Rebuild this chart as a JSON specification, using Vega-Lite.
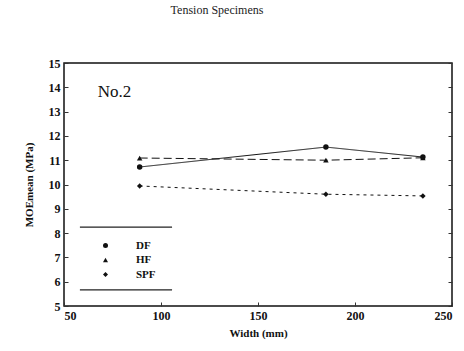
{
  "$schema": "https://vega.github.io/schema/vega-lite/v6.json",
  "autosize": {"type": "none"},
  "padding": {"left": 64, "top": 63, "right": 12, "bottom": 45},
  "width": 388,
  "height": 243,
  "background": "white",
  "title": {"text": "Tension Specimens", "anchor": "middle", "dx": -41, "offset": 40, "font": "Liberation Serif", "fontSize": 12, "fontWeight": "normal", "color": "#222"},
  "config": {
    "view": {"stroke": "#111", "strokeWidth": 1.5},
    "axis": {"grid": false, "domain": false, "labelFont": "Liberation Serif", "labelFontSize": 12, "labelFontWeight": "bold", "labelColor": "#111", "titleFont": "Liberation Serif", "titleFontSize": 11, "titleFontWeight": "bold", "titleColor": "#111", "tickColor": "#333", "tickSize": -4},
    "legend": {"labelFont": "Liberation Serif", "labelFontSize": 11, "labelFontWeight": "bold", "labelColor": "#111"}
  },
  "datasets": {
    "series": [
      {"width": 89, "moe": 10.72, "species": "DF"},
      {"width": 185, "moe": 11.54, "species": "DF"},
      {"width": 235, "moe": 11.13, "species": "DF"},
      {"width": 89, "moe": 11.09, "species": "HF"},
      {"width": 185, "moe": 11.0, "species": "HF"},
      {"width": 235, "moe": 11.1, "species": "HF"},
      {"width": 89, "moe": 9.94, "species": "SPF"},
      {"width": 185, "moe": 9.6, "species": "SPF"},
      {"width": 235, "moe": 9.53, "species": "SPF"}
    ],
    "frame": [
      {"x1": 58.2, "x2": 105.7, "y": 8.25},
      {"x1": 58.2, "x2": 105.7, "y": 5.66}
    ],
    "label": [{"x": 76, "y": 13.8, "text": "No.2"}]
  },
  "resolve": {"axis": {"y": "independent"}, "legend": {"shape": "independent", "strokeDash": "independent"}},
  "layer": [
    {
      "data": {"name": "series"},
      "mark": {"type": "line", "color": "#111", "strokeWidth": 1},
      "encoding": {
        "x": {"field": "width", "type": "quantitative", "scale": {"domain": [50, 250], "nice": false}, "axis": {"title": "Width (mm)", "values": [50, 100, 150, 200, 250], "labelPadding": 8, "titlePadding": 6}},
        "y": {"field": "moe", "type": "quantitative", "scale": {"domain": [5, 15], "nice": false, "zero": false}, "axis": {"title": "MOEmean (MPa)", "values": [5,6,7,8,9,10,11,12,13,14,15], "labelPadding": 8, "titlePadding": 14}},
        "strokeDash": {"field": "species", "type": "nominal", "scale": {"domain": ["DF", "HF", "SPF"], "range": [[1, 0], [8, 4], [3, 4]]}, "legend": null}
      }
    },
    {
      "data": {"name": "series"},
      "mark": {"type": "point", "filled": true, "color": "#111", "size": 30, "opacity": 1},
      "encoding": {
        "x": {"field": "width", "type": "quantitative"},
        "y": {"field": "moe", "type": "quantitative", "axis": null},
        "shape": {"field": "species", "type": "nominal", "title": null, "scale": {"domain": ["DF", "HF", "SPF"], "range": ["circle", "triangle-up", "diamond"]}, "legend": {"orient": "none", "legendX": 36, "legendY": 177, "symbolSize": 25, "symbolFillColor": "#111", "symbolStrokeColor": "#111", "labelOffset": 25, "rowPadding": 2.5}}
      }
    },
    {
      "data": {"name": "frame"},
      "mark": {"type": "rule", "color": "#222", "strokeWidth": 1.2},
      "encoding": {
        "x": {"field": "x1", "type": "quantitative"},
        "x2": {"field": "x2"},
        "y": {"field": "y", "type": "quantitative", "axis": {"orient": "right", "labels": false, "ticks": true, "tickSize": 4, "offset": -4, "tickColor": "#333", "title": null, "values": [5,6,7,8,9,10,11,12,13,14,15]}}
      }
    },
    {
      "data": {"name": "label"},
      "mark": {"type": "text", "font": "Liberation Serif", "fontSize": 17, "color": "#111", "align": "center", "baseline": "middle"},
      "encoding": {
        "x": {"field": "x", "type": "quantitative"},
        "y": {"field": "y", "type": "quantitative", "axis": null},
        "text": {"field": "text"}
      }
    }
  ]
}
